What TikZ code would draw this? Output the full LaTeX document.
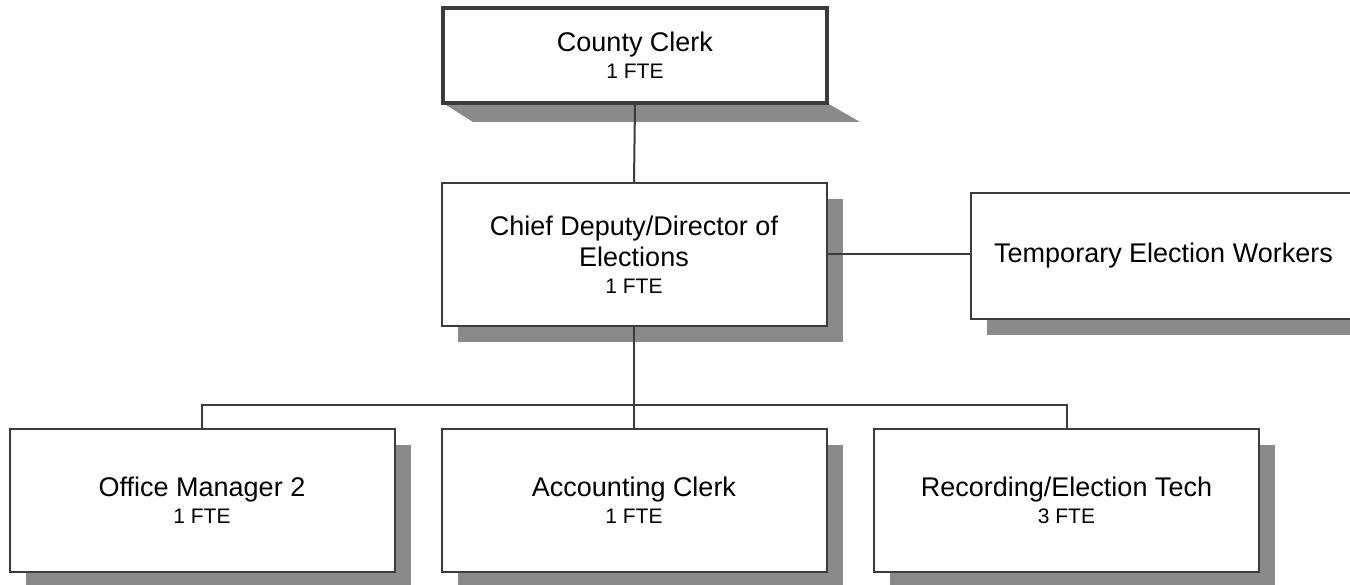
\documentclass[tikz,border=0pt]{standalone}
\usepackage{fontspec}
\setmainfont{Liberation Sans}
\usetikzlibrary{shadows}
\definecolor{edgegray}{HTML}{3C3C3C}
\definecolor{shadowgray}{HTML}{8A8A8A}
\newcommand{\subline}[1]{{\fontsize{21}{24}\selectfont #1}}
\begin{document}
\begin{tikzpicture}[x=1pt,y=-1pt,
  box/.style={draw=edgegray, line width=2pt, fill=white, minimum width=385pt,
    minimum height=143pt, align=center, inner sep=0pt,
    font=\fontsize{27}{31}\selectfont,
    drop shadow={shadow xshift=16pt, shadow yshift=-16pt, fill=shadowgray, opacity=1}},
  topbox/.style={draw=edgegray, line width=3.5pt, fill=white, minimum width=384pt,
    minimum height=95pt, align=center, inner sep=0pt,
    font=\fontsize{27}{31}\selectfont},
  link/.style={draw=edgegray, line width=2pt}]
\clip (0,0) rectangle (1350,585);
\fill[white] (0,0) rectangle (1350,585);
% County Clerk with slanted shadow
\coordinate (ccsw) at (443,103);
\coordinate (ccse) at (827,103);
\fill[shadowgray] (ccsw) -- (ccse) -- (860,122) -- (473,122) -- cycle;
\node[topbox] (cc) at (635,55.5) {County Clerk\\[-4pt]\subline{1 FTE}};
\node[box] (chief) at (634,254.5) {Chief Deputy/Director of\\Elections\\[-4pt]\subline{1 FTE}};
\node[box, minimum height=126pt] (temp) at (1163.5,256) {Temporary Election Workers};
\node[box] (office) at (202,500.5) {Office Manager 2\\[-4pt]\subline{1 FTE}};
\node[box] (acct) at (634,500.5) {Accounting Clerk\\[-4pt]\subline{1 FTE}};
\node[box] (rec) at (1066.5,500.5) {Recording/Election Tech\\[-4pt]\subline{3 FTE}};
\coordinate (bus) at (634,404.5);
\draw[link] (cc.south) -- (chief.north);
\draw[link] (chief.east) -- (chief.east -| temp.west);
\draw[link] (chief.south) -- (acct.north);
\draw[link] (office.north) |- (bus) -| (rec.north);
\end{tikzpicture}
\end{document}
